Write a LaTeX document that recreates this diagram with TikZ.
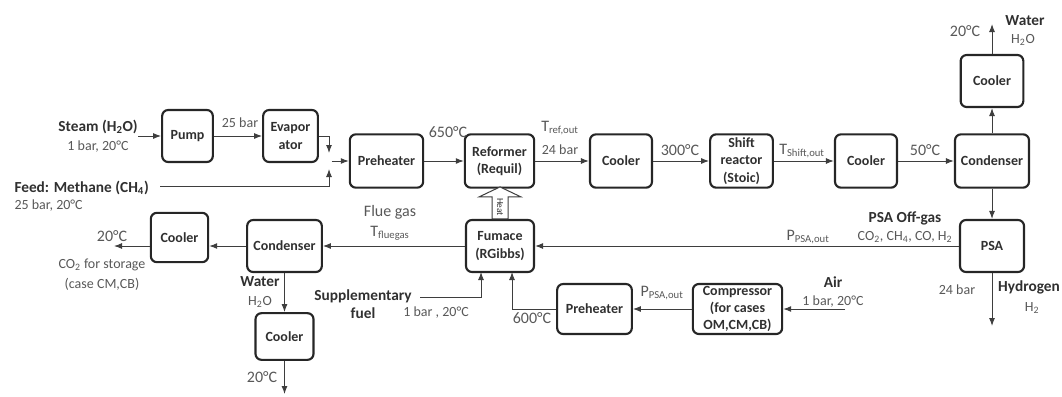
\documentclass[tikz,border=0pt]{standalone}
\usepackage{fontspec}
\setmainfont{Carlito}
\usetikzlibrary{arrows.meta}

\definecolor{boxline}{RGB}{38,38,38}
\definecolor{flowline}{RGB}{62,62,62}
\definecolor{boxtext}{RGB}{48,48,48}
\definecolor{notetext}{RGB}{88,88,88}

\tikzset{every picture/.style={line width=0.75pt}}
\tikzset{
  unit/.style={draw=boxline, line width=1.6pt, rounded corners=4.5pt, align=center, inner sep=0pt,
    text=boxtext, font=\fontsize{10.5}{13}\selectfont\bfseries},
  flow/.style={draw=flowline, line width=0.75pt, -{Latex[length=6pt,width=4.5pt]}},
  note/.style={inner sep=0.75pt, text=notetext, align=center, font=\fontsize{10.5}{12}\selectfont},
  temp/.style={inner sep=0.75pt, text=notetext, font=\fontsize{12}{14}\selectfont},
  tag/.style={inner sep=0.75pt, text=boxtext, align=center, font=\fontsize{11.5}{13.5}\selectfont\bfseries},
}

\begin{document}
\begin{tikzpicture}[x=0.75pt,y=0.75pt,yscale=-1,xscale=1]
\useasboundingbox (0,0) rectangle (1062,396);

%Shape: Process units, upper line
\node [unit, minimum width=38pt, minimum height=39pt] (pump) at (187.5,136) {Pump};
\node [unit, minimum width=41pt, minimum height=39pt] (evap) at (290.5,136) {Evapor\\ator};
\node [unit, minimum width=55pt, minimum height=40pt] (preheatA) at (386.5,161) {Preheater};
\node [unit, minimum width=52pt, minimum height=40pt] (reformer) at (499.5,161) {Reformer\\(Requil)};
\node [unit, minimum width=46.5pt, minimum height=40pt] (coolerA) at (621,161) {Cooler};
\node [unit, minimum width=47pt, minimum height=40pt] (shift) at (741.5,161) {Shift\\reactor\\(Stoic)};
\node [unit, minimum width=46.5pt, minimum height=40pt] (coolerB) at (866,161) {Cooler};
\node [unit, minimum width=55.5pt, minimum height=40pt] (condA) at (992,161) {Condenser};
\node [unit, minimum width=47pt, minimum height=39pt] (coolerC) at (992,81) {Cooler};
\node [unit, minimum width=48pt, minimum height=39pt] (psa) at (992,246) {PSA};

%Shape: Process units, lower line
\node [unit, minimum width=51pt, minimum height=39pt] (furnace) at (500,246) {Fumace\\(RGibbs)};
\node [unit, minimum width=56pt, minimum height=39pt] (condB) at (284.5,246) {Condenser};
\node [unit, minimum width=43pt, minimum height=37pt] (coolerD) at (179.5,237.5) {Cooler};
\node [unit, minimum width=43.5pt, minimum height=35pt] (coolerE) at (284.5,336.5) {Cooler};
\node [unit, minimum width=56pt, minimum height=37.5pt] (preheatB) at (594.5,309) {Preheater};
\node [unit, minimum width=67pt, minimum height=37.5pt] (compr) at (737.5,309) {Compressor\\(for cases\\OM,CM,CB)};

%Free stream ends
\coordinate (steamIn) at (138,136);
\coordinate (feedIn) at (160,186);
\coordinate (mix) at (329,161);
\coordinate (waterOutA) at (992,24);
\coordinate (h2Out) at (992,326);
\coordinate (co2Out) at (114,246);
\coordinate (waterOutB) at (284.5,394);
\coordinate (fuelIn) at (420,297);
\coordinate (fuelTo) at (481,272);
\coordinate (hotTo) at (512,272);
\coordinate (airIn) at (845,309);

%Straight Lines: reforming train
\draw [flow] (steamIn) -- (pump);
\draw [flow] (pump) -- (evap);
\draw [flow, shorten >=6pt] (evap.east) -| (mix);
\draw [flow, shorten >=6pt] (feedIn) -| (mix);
\draw [flow, shorten <=2pt] (mix) -- (preheatA);
\draw [flow] (preheatA) -- (reformer);
\draw [flow] (reformer) -- (coolerA);
\draw [flow] (coolerA) -- (shift);
\draw [flow] (shift) -- (coolerB);
\draw [flow] (coolerB) -- (condA);
\draw [flow] (condA) -- (coolerC);
\draw [flow] (coolerC) -- (waterOutA);
\draw [flow] (condA) -- (psa);
\draw [flow] (psa) -- (h2Out);

%Straight Lines: off-gas and flue gas
\draw [flow] (psa) -- (furnace);
\draw [flow] (furnace) -- (condB);
\draw [flow] (condB.west) -- (condB.west -| coolerD.east);
\draw [flow] (condB.west -| coolerD.west) -- (co2Out);
\draw [flow] (condB) -- (coolerE);
\draw [flow] (coolerE) -- (waterOutB);
\draw [flow] (fuelIn) -| (fuelTo);
\draw [flow] (preheatB) -| (hotTo);
\draw [flow] (compr) -- (preheatB);
\draw [flow] (airIn) -- (compr);

%Shape: Heat block arrow
\draw [draw=flowline, fill=white, line width=0.75pt] (furnace.north) ++(-8,0) -- ++(0,-22) -- ++(-13,0) -- ++(21,-10) -- ++(21,10) -- ++(-13,0) -- ++(0,22) -- cycle;
\node [inner sep=0pt, rotate=-90, text=boxtext, font=\fontsize{7}{8}\selectfont] (heat) at (500,207) {Heat};

% Text Node
\node [tag] (steamLbl) at (98,127) {Steam (H\textsubscript{2}O)};
\node [note] (steamCond) at (98,147) {1 bar, 20°C};
\node [note] (pumpOut) at (240,123) {25 bar};
\node [tag, anchor=west] (feedLbl) at (13,188) {Feed: Methane (CH\textsubscript{4})};
\node [note, anchor=west] (feedCond) at (13,206) {25 bar, 20°C};
\node [temp] (tPre) at (448,132) {650°C};
\node [temp] (tRef) at (560,128) {T\textsubscript{ref,out}};
\node [note] (pRef) at (560,150) {24 bar};
\node [temp] (tCool) at (680,150) {300°C};
\node [temp] (tShift) at (802,151) {T\textsubscript{Shift,out}};
\node [temp] (tCond) at (925,150) {50°C};
\node [temp] (tWaterA) at (965,31) {20°C};
\node [tag] (waterLblA) at (1025,21) {Water};
\node [note] (waterFmA) at (1023,40) {H\textsubscript{2}O};
\node [tag] (offLbl) at (905,218) {PSA Off-gas};
\node [note] (offFm) at (905,237) {CO\textsubscript{2}, CH\textsubscript{4}, CO, H\textsubscript{2}};
\node [temp] (pOff) at (808,237) {P\textsubscript{PSA,out}};
\node [note] (pH2) at (957,290) {24 bar};
\node [tag] (h2Lbl) at (1029,287) {Hydrogen};
\node [note] (h2Fm) at (1032,308) {H\textsubscript{2}};
\node [temp] (flueLbl) at (390,212) {Flue gas};
\node [temp] (tFlue) at (390,233) {T\textsubscript{fluegas}};
\node [temp] (tCo2) at (112,236) {20°C};
\node [note] (co2Lbl) at (102,265) {CO\textsubscript{2} for storage};
\node [note] (co2Case) at (102,284) {(case CM,CB)};
\node [tag] (waterLblB) at (260,282) {Water};
\node [note] (waterFmB) at (260,302) {H\textsubscript{2}O};
\node [temp] (tWaterB) at (262,377) {20°C};
\node [tag] (fuelLbl) at (363,304) {Supplementary\\fuel};
\node [note] (fuelCond) at (436,313) {1 bar , 20°C};
\node [temp] (tHot) at (532,318) {600°C};
\node [temp] (pAir) at (662,293) {P\textsubscript{PSA,out}};
\node [tag] (airLbl) at (833,282) {Air};
\node [note] (airCond) at (833,302) {1 bar, 20°C};

\end{tikzpicture}
\end{document}
